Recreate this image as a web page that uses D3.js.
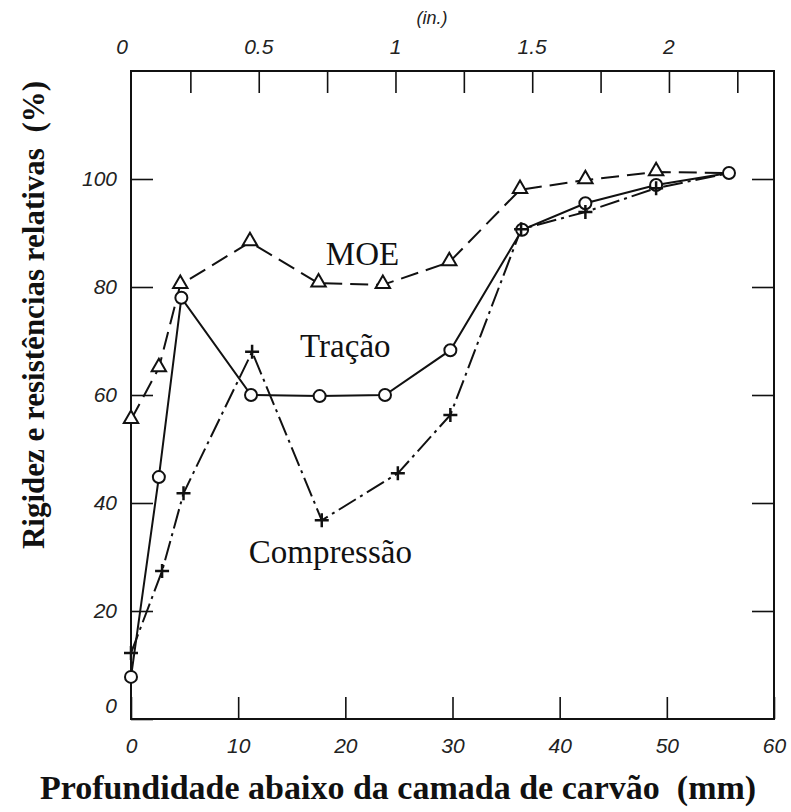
<!DOCTYPE html>
<html>
<head>
<meta charset="utf-8">
<script src="https://cdn.jsdelivr.net/npm/d3@7"></script>
<style>
  body { margin: 0; background: #fff; }
  svg { display: block; }
</style>
</head>
<body>
<div id="chart"></div>
<script>
// depth below char layer (mm) and relative values (%)
const moeDepth = [0, 2.6, 4.6, 11.1, 17.5, 23.5, 29.7, 36.3, 42.4, 49.0, 55.8];
const moeValue = [55.4, 65, 80.4, 88.3, 80.7, 80.4, 84.6, 98, 99.8, 101.3, 101.1];

const tracaoDepth = [0, 2.6, 4.7, 11.2, 17.6, 23.7, 29.8, 36.5, 42.4, 49.0, 55.8];
const tracaoValue = [7.8, 44.8, 78, 60, 59.8, 60, 68.3, 90.6, 95.5, 98.9, 101.1];

const compDepth = [0, 2.9, 4.9, 11.3, 17.8, 24.9, 29.8, 36.4, 42.4, 49.0, 55.8];
const compValue = [12.2, 27.4, 41.8, 68, 36.8, 45.5, 56.3, 90.7, 93.9, 98.3, 101.1];

const xTicks = [0, 10, 20, 30, 40, 50, 60];
const yTicks = [0, 20, 40, 60, 80, 100];
const inchTicks = [0.25, 0.5, 0.75, 1, 1.25, 1.5, 1.75, 2, 2.25];
const inchLabels = [0, 0.5, 1, 1.5, 2];

const width = 791, height = 812;

let svg = d3.select("#chart").append("svg")
    .attr("width", width)
    .attr("height", height);

let x = d3.scaleLinear().domain([0, 60]).range([131, 774]);
let y = d3.scaleLinear().domain([0, 120]).range([719, 71]);
// top axis in inches (the printed scale sits a few px left of the mm one)
let xIn = d3.scaleLinear().domain([0, 60 / 25.4]).range([122, 768]);

const tickFont = "'Liberation Sans', Arial, sans-serif";

// frame
svg.append("rect")
    .attr("x", x(0)).attr("y", y(120))
    .attr("width", x(60) - x(0)).attr("height", y(0) - y(120))
    .attr("fill", "none")
    .attr("stroke", "#111")
    .attr("stroke-width", 2);

function styleAxis(g) {
  g.select(".domain").remove();
  g.selectAll(".tick line").attr("stroke", "#111").attr("stroke-width", 1.6);
  g.selectAll(".tick text")
    .style("font-family", tickFont)
    .style("font-style", "italic")
    .style("font-size", "21px")
    .attr("fill", "#222");
}

// bottom
svg.append("g")
    .attr("transform", `translate(0,${y(0)})`)
    .call(d3.axisBottom(x).tickValues(xTicks).tickSize(-22).tickPadding(19).tickFormat(d3.format("d")))
    .call(styleAxis);

// left
let yAxisG = svg.append("g")
    .attr("transform", `translate(${x(0)},0)`)
    .call(d3.axisLeft(y).tickValues(yTicks).tickSize(-22).tickPadding(14).tickFormat(d3.format("d")))
    .call(styleAxis);
// the zero of the value axis sits a little above the corner
yAxisG.selectAll(".tick text").filter(d => d === 0).attr("dy", "-0.3em");

// right, ticks only
svg.append("g")
    .attr("transform", `translate(${x(60)},0)`)
    .call(d3.axisRight(y).tickValues(yTicks.slice(1)).tickSize(-22).tickFormat(""))
    .call(styleAxis);

// top, inches
svg.append("g")
    .attr("transform", `translate(0,${y(120)})`)
    .call(d3.axisTop(xIn).tickValues(inchTicks).tickSize(-22).tickFormat(""))
    .call(styleAxis);

svg.append("g")
    .selectAll("text")
    .data(inchLabels)
    .enter()
    .append("text")
      .attr("x", d => xIn(d))
      .attr("y", 54)
      .attr("text-anchor", "middle")
      .style("font-family", tickFont)
      .style("font-style", "italic")
      .style("font-size", "21px")
      .attr("fill", "#222")
      .text(d => d);

svg.append("text")
    .attr("x", 432).attr("y", 24)
    .attr("text-anchor", "middle")
    .style("font-family", tickFont)
    .style("font-style", "italic")
    .style("font-size", "18px")
    .attr("fill", "#222")
    .text("(in.)");

// series
const series = [
  {name: "MOE", depth: moeDepth, value: moeValue, dash: "18,8", marker: "triangle"},
  {name: "Tração", depth: tracaoDepth, value: tracaoValue, dash: null, marker: "circle"},
  {name: "Compressão", depth: compDepth, value: compValue, dash: "20,5,3,5", marker: "cross"}
];

let line = d3.line()
    .x(d => x(d[0]))
    .y(d => y(d[1]));

series.forEach(s => {
  let pts = s.depth.map((d, i) => [d, s.value[i]]);
  s.pts = pts;
  svg.append("path")
      .datum(pts)
      .attr("d", line)
      .attr("fill", "none")
      .attr("stroke", "#111")
      .attr("stroke-width", 2)
      .attr("stroke-dasharray", s.dash);
});

// markers (the shared end point only shows the circle)
series.forEach(s => {
  let pts = s.marker === "circle" ? s.pts : s.pts.slice(0, -1);
  let g = svg.append("g");
  if (s.marker === "triangle") {
    g.selectAll("path").data(pts).enter().append("path")
      .attr("d", d3.symbol().type(d3.symbolTriangle).size(90))
      .attr("transform", d => `translate(${x(d[0])},${y(d[1]) - 1})`)
      .attr("fill", "#fff").attr("stroke", "#111").attr("stroke-width", 2);
  } else if (s.marker === "circle") {
    g.selectAll("circle").data(pts).enter().append("circle")
      .attr("cx", d => x(d[0])).attr("cy", d => y(d[1]))
      .attr("r", 6)
      .attr("fill", "#fff").attr("stroke", "#111").attr("stroke-width", 2);
  } else {
    g.selectAll("path").data(pts).enter().append("path")
      .attr("d", "M-7,0H7M0,-7V7")
      .attr("transform", d => `translate(${x(d[0])},${y(d[1])})`)
      .attr("fill", "none").attr("stroke", "#111").attr("stroke-width", 2.5);
  }
});

// labels inside the plot
const serif = "'Liberation Serif', 'Times New Roman', serif";
let labels = [
  {text: "MOE", x: 21.6, y: 84},
  {text: "Tração", x: 20.0, y: 67},
  {text: "Compressão", x: 18.6, y: 28.9}
];
svg.append("g").selectAll("text")
    .data(labels)
    .enter()
    .append("text")
      .attr("x", d => x(d.x))
      .attr("y", d => y(d.y))
      .attr("text-anchor", "middle")
      .style("font-family", serif)
      .style("font-size", "33px")
      .attr("fill", "#111")
      .text(d => d.text);

// axis titles
svg.append("text")
    .attr("x", 398).attr("y", 799)
    .attr("text-anchor", "middle")
    .style("font-family", serif)
    .style("font-weight", "bold")
    .style("font-size", "34px")
    .attr("fill", "#111")
    .style("white-space", "pre")
    .text("Profundidade abaixo da camada de carvão  (mm)");

svg.append("text")
    .attr("transform", "translate(44,315) rotate(-90)")
    .attr("text-anchor", "middle")
    .style("font-family", serif)
    .style("font-weight", "bold")
    .style("font-size", "31px")
    .attr("fill", "#111")
    .style("white-space", "pre")
    .text("Rigidez e resistências relativas  (%)");
</script>
</body>
</html>
